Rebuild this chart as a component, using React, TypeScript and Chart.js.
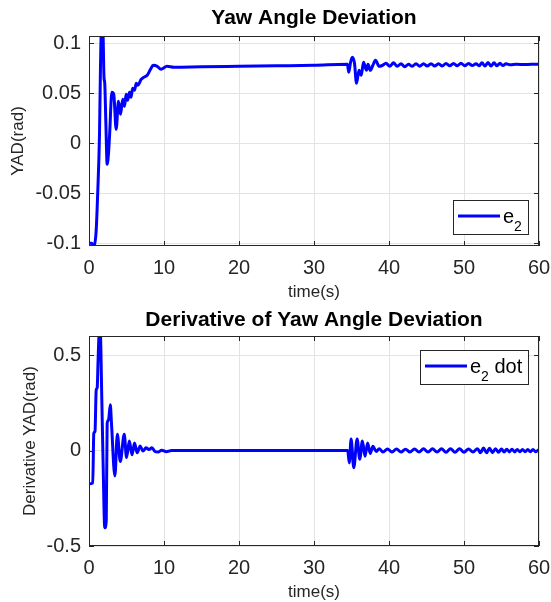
import React, { useEffect, useRef } from "react";
import { Chart, registerables } from "chart.js";

Chart.register(...registerables);

// ---------- data ----------
const X_TICKS = [0, 10, 20, 30, 40, 50, 60];
const YAD_TICKS = [-0.1, -0.05, 0, 0.05, 0.1];
const DYAD_TICKS = [-0.5, 0, 0.5];

const TOP_TITLE = "Yaw Angle Deviation";
const BOTTOM_TITLE = "Derivative of Yaw Angle Deviation";
const X_LABEL = "time(s)";
const TOP_Y_LABEL = "YAD(rad)";
const BOTTOM_Y_LABEL = "Derivative YAD(rad)";

// [time (s), e2 (rad)]
const YAD_SAMPLES: [number, number][] = [
  [0, -0.1], [0.35, -0.1], [0.65, -0.103], [0.95, -0.088], [1.17, -0.048],
  [1.4, 0.009], [1.53, 0.076], [1.65, 0.112], [1.85, 0.112], [2.0, 0.066],
  [2.1, 0.06], [2.25, 0.02], [2.42, -0.021], [2.6, -0.01], [2.75, 0.009],
  [3.05, 0.051], [3.3, 0.049], [3.62, 0.014], [3.93, 0.042], [4.2, 0.029],
  [4.5, 0.044], [4.73, 0.037], [4.95, 0.049], [5.15, 0.043], [5.4, 0.051],
  [5.6, 0.046], [5.82, 0.055], [6.07, 0.053], [6.3, 0.06], [6.5, 0.058],
  [6.96, 0.064], [7.3, 0.066], [7.76, 0.068], [8.2, 0.074], [8.56, 0.078],
  [9.1, 0.077], [9.6, 0.074], [10.4, 0.077], [11.3, 0.076], [15, 0.0765],
  [20, 0.077], [25, 0.0775], [30, 0.078], [34.45, 0.079], [34.64, 0.071],
  [34.85, 0.08], [35.1, 0.086], [35.4, 0.08], [35.67, 0.06], [36.0, 0.073],
  [36.3, 0.068], [36.6, 0.081], [37.0, 0.073], [37.2, 0.079], [37.5, 0.073],
  [37.85, 0.078], [38.2, 0.083], [38.7, 0.077], [39.1, 0.0778], [39.6, 0.08],
  [40.1, 0.077], [40.6, 0.0805], [41.1, 0.077], [41.6, 0.0795], [42.1, 0.0765],
  [42.6, 0.079], [43.1, 0.077], [43.6, 0.0795], [44.1, 0.077], [44.6, 0.0795],
  [45.1, 0.0772], [45.6, 0.0795], [46.1, 0.0772], [46.6, 0.0795], [47.1, 0.0772],
  [47.6, 0.0798], [48.1, 0.0775], [48.6, 0.0798], [49.1, 0.0775], [49.6, 0.08],
  [50.1, 0.0775], [50.6, 0.0798], [51.1, 0.0778], [51.6, 0.0795], [52.0, 0.0775],
  [52.4, 0.0805], [52.8, 0.0772], [53.2, 0.0808], [53.6, 0.0772], [54.0, 0.0805],
  [54.4, 0.0775], [54.8, 0.08], [55.2, 0.0778], [55.6, 0.0795], [56.2, 0.0785],
  [57, 0.079], [58, 0.0788], [59, 0.079], [60, 0.079],
];

// [time (s), e2 dot (rad/s)]
const DYAD_SAMPLES: [number, number][] = [
  [0, -0.174], [0.5, -0.17], [0.64, 0.09], [0.8, 0.1], [0.96, 0.317],
  [1.1, 0.33], [1.2, 0.46], [1.38, 0.62], [1.5, 0.62], [1.71, 0.265],
  [1.89, -0.084], [2.1, -0.405], [2.3, -0.37], [2.42, 0.142], [2.6, 0.16],
  [2.84, 0.24], [3.0, 0.14], [3.45, -0.133], [3.78, 0.086], [4.17, -0.057],
  [4.7, 0.085], [5.0, -0.037], [5.38, 0.05], [5.73, -0.022], [6.07, 0.039],
  [6.42, -0.012], [6.82, 0.024], [7.2, -0.003], [7.6, 0.015], [8.0, 0.005],
  [8.4, 0.014], [8.8, -0.005], [9.2, -0.008], [9.7, 0.002], [10.3, -0.006],
  [11, 0], [20, 0], [30, 0], [34.5, 0], [34.7, -0.065],
  [34.95, 0.06], [35.3, -0.09], [35.75, 0.06], [36.1, -0.045], [36.45, 0.05],
  [36.8, -0.03], [37.15, 0.04], [37.5, -0.015], [37.85, 0.022], [38.3, -0.005],
  [38.7, 0.01], [39.2, -0.008], [39.8, 0.008], [40.4, -0.008], [41.0, 0.008],
  [41.6, -0.008], [42.2, 0.007], [42.8, -0.008], [43.4, 0.008], [44.0, -0.008],
  [44.6, 0.009], [45.2, -0.008], [45.8, 0.009], [46.4, -0.008], [47.0, 0.009],
  [47.6, -0.009], [48.2, 0.009], [48.8, -0.009], [49.4, 0.009], [50.0, -0.009],
  [50.6, 0.008], [51.2, -0.008], [51.8, 0.01], [52.2, -0.012], [52.6, 0.013],
  [53.0, -0.012], [53.4, 0.012], [53.8, -0.011], [54.2, 0.01], [54.6, -0.009],
  [55.0, 0.008], [55.35, -0.008], [55.7, 0.007], [56.05, -0.007], [56.4, 0.007],
  [56.75, -0.007], [57.1, 0.006], [57.45, -0.006], [57.8, 0.006], [58.15, -0.006],
  [58.5, 0.006], [58.85, -0.006], [59.2, 0.006], [59.55, -0.006], [60, 0.005],
];

// ---------- style ----------
const FONT = '"Liberation Sans", Arial, Helvetica, sans-serif';
const AXIS_COLOR = "#262626";
const GRID_COLOR = "#e3e3e3";
const LINE_COLOR = "#0000ff";

const framePlugin = {
  id: "matlabFrame",
  afterDatasetsDraw(chart: any) {
    const { ctx, chartArea: a, scales } = chart;
    const L = 5;
    ctx.save();
    ctx.strokeStyle = AXIS_COLOR;
    ctx.lineWidth = 1;
    ctx.beginPath();
    scales.x.ticks.forEach((t: any) => {
      const px = Math.round(scales.x.getPixelForValue(t.value)) + 0.5;
      ctx.moveTo(px, a.bottom);
      ctx.lineTo(px, a.bottom - L);
      ctx.moveTo(px, a.top);
      ctx.lineTo(px, a.top + L);
    });
    scales.y.ticks.forEach((t: any) => {
      const py = Math.round(scales.y.getPixelForValue(t.value)) + 0.5;
      ctx.moveTo(a.left, py);
      ctx.lineTo(a.left + L, py);
      ctx.moveTo(a.right, py);
      ctx.lineTo(a.right - L, py);
    });
    ctx.stroke();
    ctx.strokeRect(
      Math.round(a.left) + 0.5,
      Math.round(a.top) + 0.5,
      Math.round(a.right - a.left) - 1,
      Math.round(a.bottom - a.top) - 1
    );
    ctx.restore();
  },
};

const legendPlugin = {
  id: "subLegend",
  afterDraw(chart: any, _args: any, opts: any) {
    if (!opts || !opts.base) return;
    const { ctx, chartArea: a } = chart;
    const mainFont = `20px ${FONT}`;
    const subFont = `14px ${FONT}`;
    ctx.save();
    ctx.font = mainFont;
    const wMain = ctx.measureText(opts.base).width;
    const wSuffix = opts.suffix ? ctx.measureText(opts.suffix).width : 0;
    ctx.font = subFont;
    const wSub = ctx.measureText(opts.sub).width;
    const padL = 5, lineLen = 42, gap = 3, padR = 6;
    const w = Math.round(padL + lineLen + gap + wMain + wSub + wSuffix + padR);
    const h = 34;
    const x = Math.round(a.right - opts.right - w);
    const y = Math.round(opts.top != null ? a.top + opts.top : a.bottom - opts.bottom - h);
    ctx.fillStyle = "#ffffff";
    ctx.fillRect(x, y, w, h);
    ctx.strokeStyle = AXIS_COLOR;
    ctx.lineWidth = 1;
    ctx.strokeRect(x + 0.5, y + 0.5, w, h);
    ctx.strokeStyle = LINE_COLOR;
    ctx.lineWidth = 3;
    ctx.beginPath();
    ctx.moveTo(x + padL, y + 16);
    ctx.lineTo(x + padL + lineLen, y + 16);
    ctx.stroke();
    ctx.fillStyle = "#000000";
    ctx.textAlign = "left";
    ctx.textBaseline = "alphabetic";
    const tx = x + padL + lineLen + gap;
    ctx.font = mainFont;
    ctx.fillText(opts.base, tx, y + 23);
    ctx.font = subFont;
    ctx.fillText(opts.sub, tx + wMain, y + 31);
    if (opts.suffix) {
      ctx.font = mainFont;
      ctx.fillText(opts.suffix, tx + wMain + wSub, y + 23);
    }
    ctx.restore();
  },
};

function makeConfig(p: {
  samples: [number, number][];
  yTicks: number[];
  yMin: number;
  yMax: number;
  title: string;
  titlePad: { top: number; bottom: number };
  yLabel: string;
  yLabelPad: number;
  xAxisHeight: number;
  xLabelPad: number;
  legend: any;
}) {
  return {
    type: "line" as const,
    data: {
      datasets: [
        {
          data: p.samples.map(([t, v]) => ({ x: t, y: v })),
          borderColor: LINE_COLOR,
          borderWidth: 3,
          pointRadius: 0,
          cubicInterpolationMode: "monotone",
          fill: false,
          clip: 0,
        },
      ],
    },
    options: {
      animation: false,
      responsive: false,
      maintainAspectRatio: false,
      layout: { padding: { left: 0, right: 12, top: 0, bottom: 0 } },
      plugins: {
        legend: { display: false },
        tooltip: { enabled: false },
        title: {
          display: true,
          fullSize: false,
          text: p.title,
          color: "#000000",
          font: { family: FONT, size: 21, weight: "bold", lineHeight: 1.2 },
          padding: p.titlePad,
        },
        subLegend: p.legend,
      },
      scales: {
        x: {
          type: "linear",
          min: 0,
          max: 60,
          afterBuildTicks: (s: any) => {
            s.ticks = X_TICKS.map((v) => ({ value: v }));
          },
          afterFit: (s: any) => {
            s.height = p.xAxisHeight;
            s.paddingLeft = 0;
            s.paddingRight = 0;
          },
          grid: { color: GRID_COLOR, drawTicks: false, tickLength: 0 },
          border: { display: false },
          ticks: {
            color: AXIS_COLOR,
            font: { family: FONT, size: 20, lineHeight: 1.2 },
            padding: 10,
            maxRotation: 0,
            autoSkip: false,
            callback: (v: any) => String(v),
          },
          title: {
            display: true,
            text: X_LABEL,
            color: AXIS_COLOR,
            font: { family: FONT, size: 17, lineHeight: 1.0 },
            padding: { top: 0, bottom: p.xLabelPad },
          },
        },
        y: {
          type: "linear",
          min: p.yMin,
          max: p.yMax,
          afterBuildTicks: (s: any) => {
            s.ticks = p.yTicks.map((v) => ({ value: v }));
          },
          afterFit: (s: any) => {
            s.width = 89;
            s.paddingTop = 0;
            s.paddingBottom = 0;
          },
          grid: { color: GRID_COLOR, drawTicks: false, tickLength: 0 },
          border: { display: false },
          ticks: {
            color: AXIS_COLOR,
            font: { family: FONT, size: 20, lineHeight: 1.2 },
            padding: 8,
            autoSkip: false,
            callback: (v: any) => String(v),
          },
          title: {
            display: true,
            text: p.yLabel,
            color: AXIS_COLOR,
            font: { family: FONT, size: 17, lineHeight: 1.2 },
            padding: { top: p.yLabelPad, bottom: 0 },
          },
        },
      },
    },
    plugins: [framePlugin, legendPlugin],
  };
}

function ChartCanvas({ config }: { config: any }) {
  const ref = useRef<HTMLCanvasElement | null>(null);
  useEffect(() => {
    if (!ref.current) return;
    const chart = new Chart(ref.current, config);
    return () => chart.destroy();
  }, [config]);
  return (
    <canvas
      ref={ref}
      width={551}
      height={301}
      style={{ display: "block", width: 551, height: 301 }}
    />
  );
}

const topConfig = makeConfig({
  samples: YAD_SAMPLES,
  yTicks: YAD_TICKS,
  yMin: -0.1027,
  yMax: 0.1073,
  title: TOP_TITLE,
  titlePad: { top: 5.4, bottom: 5.4 },
  yLabel: TOP_Y_LABEL,
  yLabelPad: 8,
  xAxisHeight: 55,
  xLabelPad: 0,
  legend: { base: "e", sub: "2", suffix: "", right: 11, bottom: 12 },
});

const bottomConfig = makeConfig({
  samples: DYAD_SAMPLES,
  yTicks: DYAD_TICKS,
  yMin: -0.5,
  yMax: 0.6,
  title: BOTTOM_TITLE,
  titlePad: { top: 7, bottom: 2.8 },
  yLabel: BOTTOM_Y_LABEL,
  yLabelPad: 20,
  xAxisHeight: 56,
  xLabelPad: 1,
  legend: { base: "e", sub: "2", suffix: " dot", right: 11, top: 14 },
});

export default function App() {
  return (
    <div
      style={{
        position: "absolute",
        left: 0,
        top: 0,
        width: 551,
        height: 602,
        background: "#ffffff",
      }}
    >
      <ChartCanvas config={topConfig} />
      <ChartCanvas config={bottomConfig} />
    </div>
  );
}
